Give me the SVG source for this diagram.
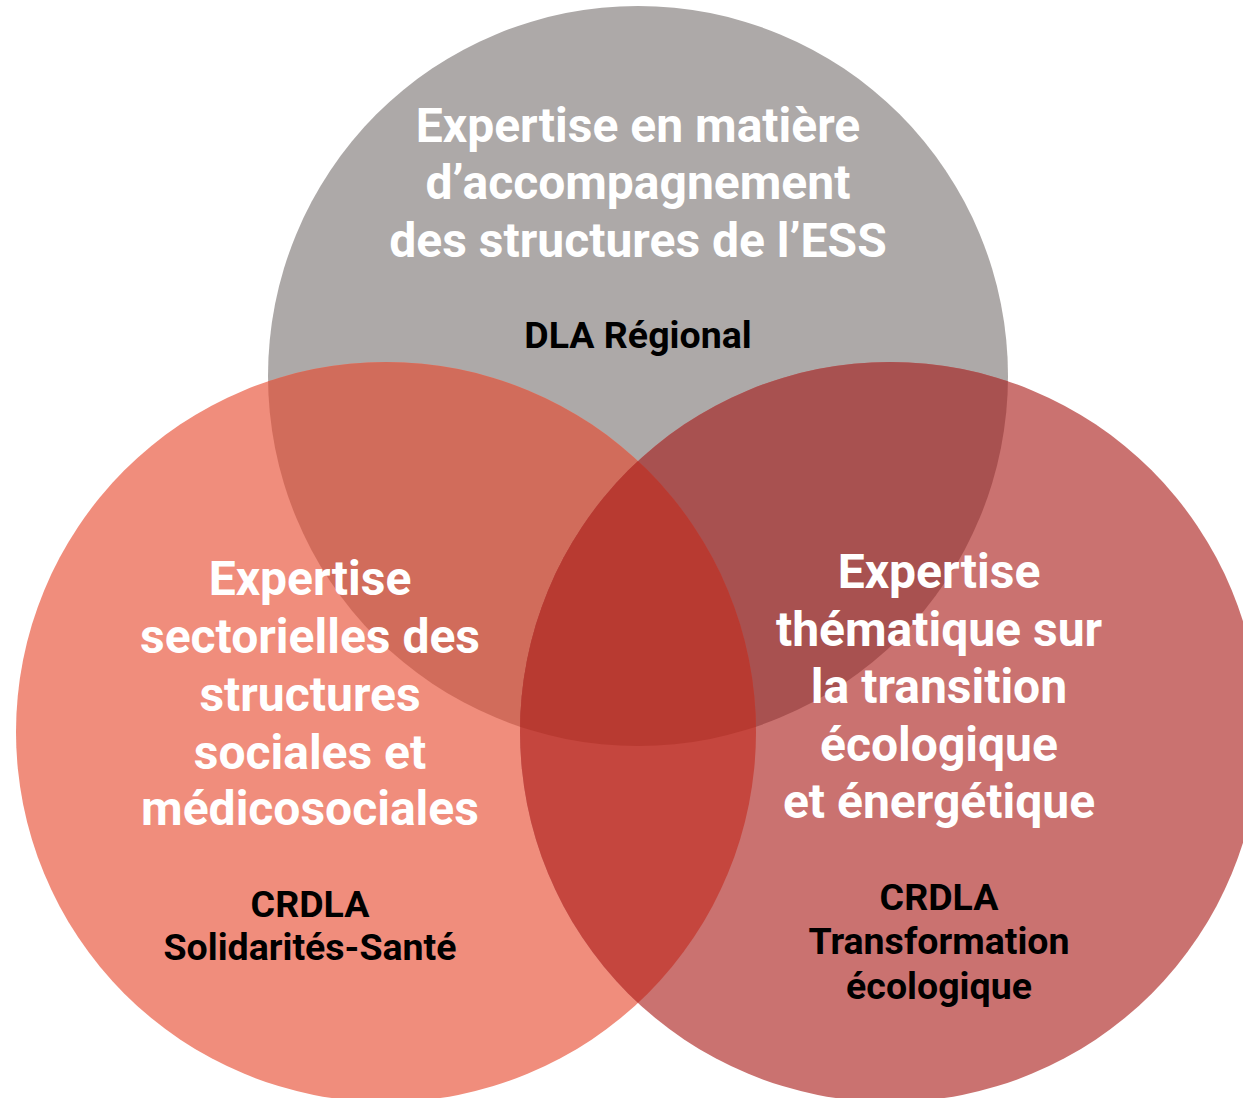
<svg xmlns="http://www.w3.org/2000/svg" width="1243" height="1098" viewBox="0 0 1243 1098">
<style>
.t{font-family:Roboto,"Liberation Sans",sans-serif;font-weight:700;fill:#fff;font-size:48px;text-anchor:middle}
.l{font-family:Roboto,"Liberation Sans",sans-serif;font-weight:700;fill:#000;font-size:37.5px;text-anchor:middle}
</style>
<defs>
<clipPath id="cT"><circle cx="638" cy="376" r="370"/></clipPath>
<clipPath id="cL"><circle cx="386" cy="732" r="370"/></clipPath>
<clipPath id="cR"><circle cx="890" cy="732" r="370"/></clipPath>
</defs>
<rect width="1243" height="1098" fill="#fff"/>
<g id="circle-top"><circle cx="638" cy="376" r="370" fill="#ADA9A8"/></g>
<g id="circle-left"><circle cx="386" cy="732" r="370" fill="#F08D7C"/></g>
<g id="circle-right"><circle cx="890" cy="732" r="370" fill="#CA7270"/></g>
<g id="overlaps">
<g clip-path="url(#cT)"><circle cx="386" cy="732" r="370" fill="#D16C5B"/><circle cx="890" cy="732" r="370" fill="#A85150"/></g>
<g clip-path="url(#cL)"><circle cx="890" cy="732" r="370" fill="#C5463E"/></g>
<g clip-path="url(#cT)"><g clip-path="url(#cL)"><circle cx="890" cy="732" r="370" fill="#B83A31"/></g></g>
</g>
<g id="label-top">
<text class="t" x="638" y="142">Expertise en matière</text>
<text class="t" x="638" y="199">d’accompagnement</text>
<text class="t" x="638" y="257">des structures de l’ESS</text>
<text class="l" x="638" y="348">DLA Régional</text>
</g>
<g id="label-left">
<text class="t" x="310" y="595">Expertise</text>
<text class="t" x="310" y="653">sectorielles des</text>
<text class="t" x="310" y="711">structures</text>
<text class="t" x="310" y="769">sociales et</text>
<text class="t" x="310" y="825">médicosociales</text>
<text class="l" x="310" y="917">CRDLA</text>
<text class="l" x="310" y="960">Solidarités-Santé</text>
</g>
<g id="label-right">
<text class="t" x="939" y="588">Expertise</text>
<text class="t" x="939" y="646">thématique sur</text>
<text class="t" x="939" y="703">la transition</text>
<text class="t" x="939" y="761">écologique</text>
<text class="t" x="939" y="818">et énergétique</text>
<text class="l" x="939" y="910">CRDLA</text>
<text class="l" x="939" y="954">Transformation</text>
<text class="l" x="939" y="999">écologique</text>
</g>
</svg>
